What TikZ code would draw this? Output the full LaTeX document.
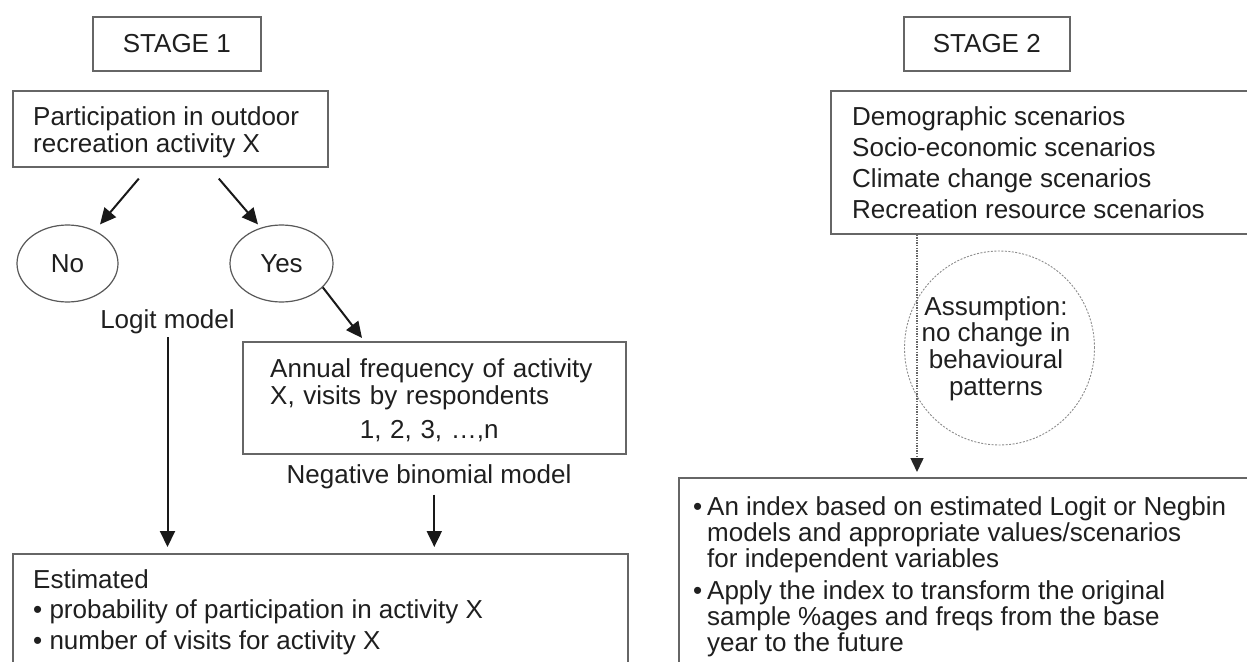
\documentclass[tikz,border=0pt]{standalone}
\usepackage{fontspec}
\setmainfont{Liberation Sans}
\usetikzlibrary{arrows.meta,shapes.geometric,calc}
\begin{document}
\begin{tikzpicture}[x=1pt,y=-1pt,
  txt/.style={font=\fontsize{26}{27}\selectfont, text=black!88, inner sep=0pt},
  frame/.style={draw=black!60, line width=1.6pt, rectangle, inner sep=0pt, anchor=north west},
  oval/.style={txt, draw=black!65, line width=1.2pt, ellipse, inner sep=0pt},
  arr/.style={draw=black!90, line width=2pt, -{Triangle[length=16pt,width=15pt]}},
  dotarr/.style={draw=black!60, line width=1.5pt, dash pattern=on 1.3pt off 1.3pt,
     -{Triangle[length=14pt,width=13pt,color=black!85,fill=black!85]}},
]
\useasboundingbox[fill=white] (0,0) rectangle (1247,661);
\clip (0,0) rectangle (1247,661);

% ---------- Stage 1 ----------
\node[frame, minimum width=168pt, minimum height=54pt] (stage1) at (92,16) {};
\node[txt] (stage1t) at (stage1.center) {STAGE 1};

\node[frame, minimum width=315pt, minimum height=76pt] (part) at (12,90) {};
\node[txt, anchor=north west, align=left] (partt) at (33,106) {Participation in outdoor\\recreation activity X};

\node[oval, minimum width=101pt, minimum height=77pt] (no) at (67.5,263.5) {No};
\node[oval, minimum width=103pt, minimum height=77pt] (yes) at (281.5,263.5) {Yes};
\node[txt, anchor=base] (logit) at (167.5,328) {Logit model};

\node[frame, minimum width=383pt, minimum height=112pt] (annual) at (242,341) {};
\node[txt, anchor=north west, align=left, text width=327pt] (annualt) at (270,358)
  {Annual frequency of activity\\X, visits by respondents\\[7pt]\makebox[318pt]{1, 2, 3, …,n}};
\node[txt, anchor=base] (neg) at (429,483) {Negative binomial model};

\node[frame, minimum width=615pt, minimum height=200pt] (est) at (12,553) {};
\node[txt, anchor=north west, align=left, font=\fontsize{26}{30.5}\selectfont] (estt) at (33,569)
  {Estimated\\• probability of participation in activity X\\• number of visits for activity X};

% ---------- Stage 2 ----------
\node[frame, minimum width=166pt, minimum height=54pt] (stage2) at (903,16) {};
\node[txt] (stage2t) at (stage2.center) {STAGE 2};

\node[frame, minimum width=450pt, minimum height=143pt] (scen) at (830,90) {};
\node[txt, anchor=north west, align=left, font=\fontsize{26}{31}\selectfont] (scent) at (852,106)
  {Demographic scenarios\\Socio-economic scenarios\\Climate change scenarios\\Recreation resource scenarios};

\node[draw=black!45, line width=0.9pt, dash pattern=on 2pt off 1.5pt, ellipse,
      minimum width=190pt, minimum height=194pt, inner sep=0pt] (assum) at (999.5,348) {};
\node[txt, anchor=north, align=center, font=\fontsize{26}{26.7}\selectfont] (assumt) at (996,296)
  {Assumption:\\no change in\\behavioural\\patterns};

\node[frame, minimum width=600pt, minimum height=250pt] (index) at (678,477) {};
\node[txt, anchor=north west, align=left, font=\fontsize{26}{26}\selectfont] (indext) at (693,496)
  {\makebox[14pt][l]{•}An index based on estimated Logit or Negbin\\
   \hspace*{14pt}models and appropriate values/scenarios\\
   \hspace*{14pt}for independent variables\\[6pt]
   \makebox[14pt][l]{•}Apply the index to transform the original\\
   \hspace*{14pt}sample \%ages and freqs from the base\\
   \hspace*{14pt}year to the future};

% ---------- connectors ----------
\draw[arr] ($(part.south)+(-31.5,11)$) -- ($(no.north)+(32.5,0)$);
\draw[arr] ($(part.south)+(48.5,11)$) -- ($(yes.north)+(-23.5,0)$);
\draw[arr] (yes.-30) -- ($(annual.north west)+(120,-3)$);
\draw[arr, shorten >=6pt] ([yshift=-9pt]logit.base) -- (logit.base |- est.north);
\draw[arr, shorten >=6pt] ([yshift=-40pt]annual.south) -- (annual.south |- est.north);
\coordinate (dstart) at ($(scen.south west)+(87,0)$);
\draw[dotarr, shorten >=5pt] (dstart) -- (dstart |- index.north);
\end{tikzpicture}
\end{document}
